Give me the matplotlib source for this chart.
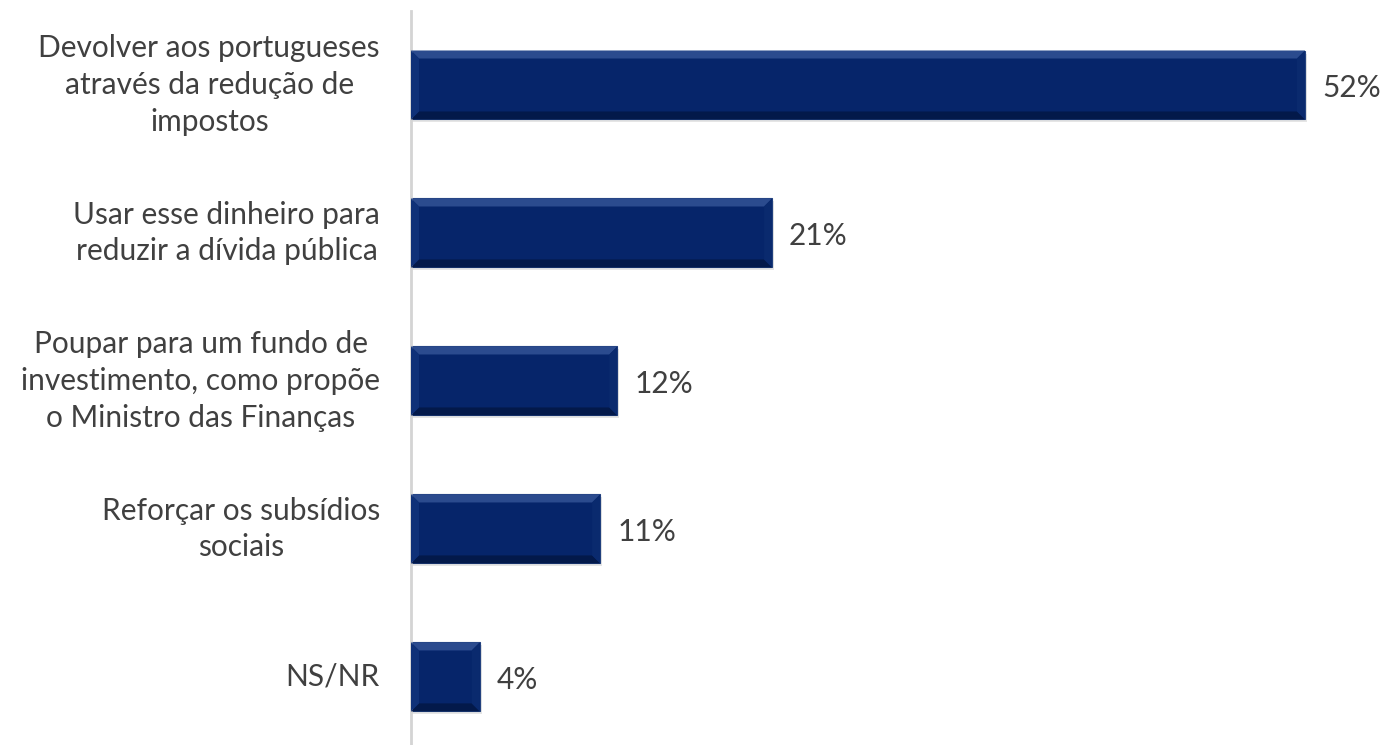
import matplotlib
matplotlib.use('Agg')
import matplotlib.pyplot as plt
from matplotlib.patches import Polygon
from matplotlib.transforms import offset_copy

# answers and shares (%)
labels = [
    "Devolver aos portugueses\natravés da redução de\nimpostos",
    "Usar esse dinheiro para\nreduzir a dívida pública",
    "Poupar para um fundo de\ninvestimento, como propõe\no Ministro das Finanças",
    "Reforçar os subsídios\nsociais",
    "NS/NR",
]
values = [52, 21, 12, 11, 4]
value_labels = ["52%", "21%", "12%", "11%", "4%"]

plt.rcParams['font.family'] = ['Lato', 'DejaVu Sans']

W, H = 13.84, 7.45
fig = plt.figure(figsize=(W, H), dpi=100)
ax = fig.add_axes([411 / 1384, 0, 973 / 1384, 734 / 745])

xmax = 52 * 973 / 894
ax.set_xlim(0, xmax)
ax.set_ylim(4.46, -0.5)

bar_h = 0.466
navy = '#06256a'
ypos = list(range(len(values)))

# size of one pixel in data units
px_x = xmax / 973
px_y = 4.96 / 734

for y, v in zip(ypos, values):
    # drop shadow
    ax.barh(y + 3 * px_y, v + 2 * px_x, height=bar_h, left=0, color='#000000',
            alpha=0.10, zorder=1)
    ax.barh(y, v, height=bar_h, color=navy, zorder=2,
            edgecolor='#23427f', linewidth=0.8)
    top = y - bar_h / 2
    bot = y + bar_h / 2
    bx = 8 * px_x
    by = 8 * px_y
    # top bevel (lighter)
    ax.add_patch(Polygon([(0, top), (v, top), (v - bx, top + by), (bx, top + by)],
                         closed=True, color='#2b4b8e', zorder=3, lw=0))
    # bottom bevel (darker)
    ax.add_patch(Polygon([(0, bot), (v, bot), (v - bx, bot - by), (bx, bot - by)],
                         closed=True, color='#03194a', zorder=3, lw=0))
    # right bevel
    ax.add_patch(Polygon([(v, top), (v, bot), (v - bx, bot - by), (v - bx, top + by)],
                         closed=True, color='#0a2a6e', zorder=3, lw=0))
    # left bevel
    ax.add_patch(Polygon([(0, top), (0, bot), (bx, bot - by), (bx, top + by)],
                         closed=True, color='#0f3178', zorder=3, lw=0))

for y, v, t in zip(ypos, values, value_labels):
    ax.text(v + 17 * px_x, y + 0.02, t, va='center', ha='left',
            fontsize=21.5, color='#404040')

# category labels: block right-aligned, lines centred
lab_tr = offset_copy(ax.get_yaxis_transform(), fig=fig, x=-31, y=0, units='dots')
for y, t in zip(ypos, labels):
    ax.text(0, y, t, transform=lab_tr, ha='right', va='center',
            multialignment='center', fontsize=21.5, color='#404040',
            linespacing=1.38)

ax.set_yticks([])
ax.set_xticks([])

for s in ['top', 'right', 'bottom']:
    ax.spines[s].set_visible(False)
ax.spines['left'].set_color('#d4d4d4')
ax.spines['left'].set_linewidth(2)
ax.patch.set_alpha(0)

fig.savefig('out.png', dpi=100)
